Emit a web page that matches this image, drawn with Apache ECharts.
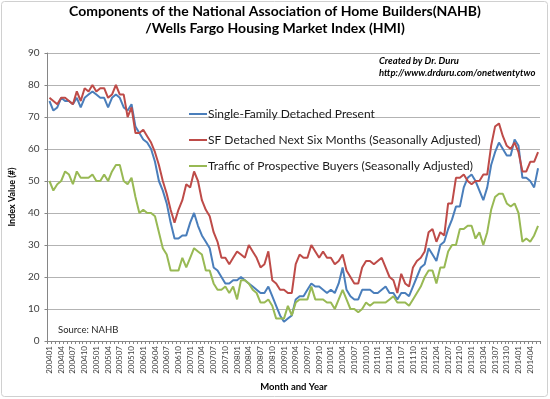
<!DOCTYPE html>
<html><head><meta charset="utf-8">
<script src="https://cdn.jsdelivr.net/npm/echarts@6/dist/echarts.min.js"></script>
<style>html,body{margin:0;padding:0;background:#fff}#c{width:550px;height:399px}</style>
</head><body><div id="c"></div>
<script>
var startYear = 2004, endYear = 2014, endMonth = 6;
var categories = [];
for (var y = startYear; y <= endYear; y++) {
  for (var m = 1; m <= 12; m++) {
    if (y === endYear && m > endMonth) break;
    categories.push(String(y) + (m < 10 ? '0' + m : String(m)));
  }
}
var sfPresent = [
  75,72,73,76,75,75,74,76,73,76,77,78,
  77,76,76,73,76,77,76,73,72,74,67,65,
  63,62,60,56,50,47,43,37,32,32,33,33,
  37,40,36,33,31,29,23,22,20,18,18,19,
  19,20,19,18,17,16,15,15,17,14,11,8,
  6,7,8,13,14,14,16,18,17,17,16,15,
  16,15,18,23,16,14,13,13,16,16,16,15,
  15,16,17,15,15,13,15,15,14,17,20,23,
  24,29,27,25,30,31,35,38,42,42,48,51,
  52,50,47,44,48,55,59,62,60,58,58,63,
  61,51,51,50,48,54
];
var sfNextSix = [
  76,75,74,76,76,75,74,78,75,79,78,80,
  78,79,79,76,77,80,77,77,70,73,65,65,
  66,64,62,59,55,50,46,41,37,41,44,49,
  48,53,50,44,41,39,34,31,26,26,24,26,
  28,27,26,30,28,26,23,24,28,19,18,16,
  16,15,15,24,27,26,26,30,28,26,28,26,
  26,24,25,27,22,20,18,18,23,25,25,24,
  25,26,23,20,19,15,21,18,17,23,25,26,
  28,34,35,31,34,33,43,43,51,51,52,50,
  49,50,50,52,52,61,67,68,64,61,60,62,
  59,53,53,56,56,59
];
var traffic = [
  50,47,49,50,53,52,49,53,51,51,51,52,
  50,50,52,50,53,55,55,50,49,51,45,40,
  41,40,40,39,34,29,27,22,22,22,26,23,
  26,29,28,27,22,22,18,16,16,17,15,17,
  13,19,19,18,16,15,12,12,13,11,7,7,
  7,11,8,12,13,13,13,17,13,13,13,12,
  12,10,13,16,13,10,10,9,10,12,11,12,
  12,12,12,13,14,12,12,12,11,13,15,17,
  20,22,22,18,23,23,28,30,30,35,35,36,
  36,32,34,30,34,41,45,46,46,43,42,43,
  40,31,32,31,33,36
];
var seriesNames = ['Single-Family Detached Present','SF Detached Next Six Months (Seasonally Adjusted)','Traffic of Prospective Buyers (Seasonally Adjusted)'];
var seriesColors = ['#4a7ebb','#be4b48','#98b954'];
var seriesData = [sfPresent, sfNextSix, traffic];
var yTicks = {min:0, max:90, interval:10};

var FONT = 'Lato';
var chart = echarts.init(document.getElementById('c'), null, {renderer:'canvas'});
chart.setOption({
  animation:false,
  backgroundColor:'#fff',
  textStyle:{fontFamily:FONT},
  title:{
    text:'Components of the National Association of Home Builders(NAHB)\n/Wells Fargo Housing Market Index (HMI)',
    left:'center', top:3, padding:0,
    textStyle:{fontFamily:FONT,fontSize:14,fontWeight:'bold',color:'#000',lineHeight:17}
  },
  legend:{
    orient:'vertical', left:184, top:103,
    itemWidth:18, itemHeight:10, itemGap:14,
    textStyle:{fontFamily:FONT,fontSize:12,color:'#1a1a1a',padding:[0,0,0,-4]},
    data:seriesNames.map(function(n,i){return {name:n,icon:'path://M0,0 L18,0 L18,2 L0,2 Z'};})
  },
  grid:{left:43,right:10,top:53,bottom:58,containLabel:false},
  xAxis:{
    type:'category', data:categories, boundaryGap:true,
    name:'Month and Year', nameLocation:'middle', nameGap:39,
    nameTextStyle:{fontFamily:FONT,fontSize:9.5,fontWeight:'bold',color:'#000'},
    axisLine:{lineStyle:{color:'#868686',width:1}},
    axisTick:{show:true,interval:0,length:3,lineStyle:{color:'#868686'}},
    axisLabel:{interval:2,rotate:90,fontSize:8,color:'#404040',margin:5,fontFamily:FONT},
    splitLine:{show:false}
  },
  yAxis:{
    type:'value', min:yTicks.min, max:yTicks.max, interval:yTicks.interval,
    name:'Index Value (#)', nameLocation:'middle', nameGap:28, nameRotate:90,
    nameTextStyle:{fontFamily:FONT,fontSize:9,fontWeight:'bold',color:'#000'},
    axisLine:{show:true,lineStyle:{color:'#868686'}},
    axisTick:{show:true,length:3,lineStyle:{color:'#868686'}},
    axisLabel:{fontSize:10,color:'#404040',margin:8,fontFamily:FONT},
    splitLine:{lineStyle:{color:'#b3b3b3',width:1}}
  },
  graphic:[
    {type:'rect',shape:{x:1.5,y:1.5,width:546,height:395,r:3},style:{fill:null,stroke:'#d0d0d0',lineWidth:1},silent:true,z:-1},
    {type:'text',left:379,top:56,style:{text:'Created by Dr. Duru',font:'italic bold 9.5px Lato',fill:'#000'}},
    {type:'text',left:379,top:68,style:{text:'http://www.drduru.com/onetwentytwo',font:'italic bold 9.5px Lato',fill:'#000'}},
    {type:'text',left:58,top:325,style:{text:'Source: NAHB',font:'9.5px Lato',fill:'#262626'}}
  ],
  series:seriesData.map(function(d,i){
    return {name:seriesNames[i],type:'line',data:d,symbol:'none',smooth:false,
      lineStyle:{color:seriesColors[i],width:2},itemStyle:{color:seriesColors[i]}};
  })
});
</script></body></html>
